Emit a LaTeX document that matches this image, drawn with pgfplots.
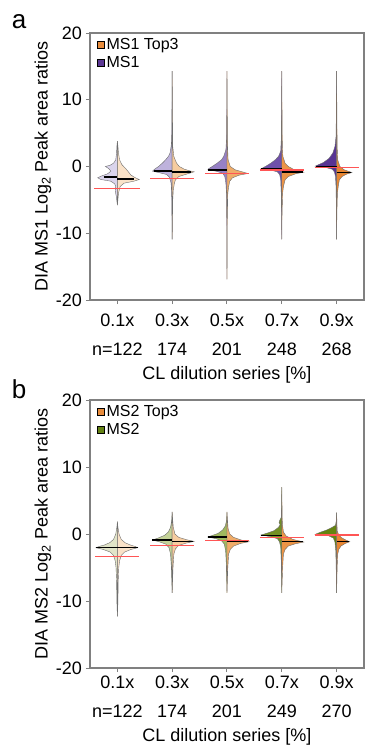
\documentclass[border=0pt]{standalone}
\usepackage{pgfplots}
\pgfplotsset{compat=1.18}
\usepackage{fontspec}
\setmainfont{Liberation Sans}
\definecolor{axgray}{RGB}{128,128,128}
\definecolor{vline}{RGB}{110,110,110}
\definecolor{redl}{RGB}{255,85,85}
\definecolor{legorange}{RGB}{232,140,60}
\definecolor{legpurple}{RGB}{92,56,148}
\definecolor{leggreen}{RGB}{100,130,20}
\definecolor{L1}{RGB}{218,212,236}
\definecolor{L2}{RGB}{190,178,220}
\definecolor{L3}{RGB}{150,128,198}
\definecolor{L4}{RGB}{112,80,170}
\definecolor{L5}{RGB}{88,52,148}
\definecolor{R1}{RGB}{250,226,200}
\definecolor{R2}{RGB}{246,204,160}
\definecolor{R3}{RGB}{240,172,105}
\definecolor{R4}{RGB}{236,148,70}
\definecolor{R5}{RGB}{232,134,50}
\definecolor{G1}{RGB}{225,228,200}
\definecolor{G2}{RGB}{196,210,152}
\definecolor{G3}{RGB}{160,185,95}
\definecolor{G4}{RGB}{115,145,35}
\definecolor{G5}{RGB}{100,132,15}
\pgfplotsset{
  violinax/.style={
    anchor=north west, scale only axis, width=274pt,
    xmin=-0.5, xmax=4.5, ymin=-20, ymax=20,
    xtick={0,1,2,3,4}, ytick={-20,-10,0,10,20},
    tick pos=left, tick align=outside, major tick length=4pt,
    axis line style={axgray, line width=1.2pt},
    tick style={axgray, line width=1pt},
    /pgf/number format/assume math mode=true,
    tick label style={font=\fontsize{18}{29}\selectfont},
    xticklabel style={align=center, inner sep=0pt},
    yticklabel style={inner sep=0pt, xshift=-4pt},
    every axis y label/.style={at={(axis description cs:-0.1715,0.5)}, rotate=90, anchor=center,
      font=\fontsize{18}{22}\selectfont},
    legend style={at={(0,1)}, anchor=north west, draw=none, fill=none,
      font=\fontsize{16}{19}\selectfont, inner sep=0pt, xshift=7pt, yshift=-3pt, row sep=1pt},
    legend cell align=left,
    legend image code/.code={\fill[##1] (0pt,-3.5pt) rectangle (7pt,3.5pt);},
  },
  vl/.style={draw=vline, line width=0.4pt, forget plot},
  med/.style={black, line width=1.5pt, forget plot},
  redline/.style={redl, line width=1.2pt, forget plot},
}
\begin{document}
\begin{tikzpicture}
\path[use as bounding box] (-90pt,33pt) rectangle (276pt,-714pt);
% ---------------- panel a ----------------
\begin{axis}[violinax, at={(0pt,0pt)}, height=267pt,
  xticklabels={{0.1x\\n=122},{0.3x\\174},{0.5x\\201},{0.7x\\248},{0.9x\\268}},
  xticklabel style={yshift=-10pt},
  every axis x label/.style={at={(axis description cs:0.5,-0.281)}, anchor=center,
      font=\fontsize{18}{22}\selectfont},
  xlabel={CL dilution series [\%]},
  ylabel={DIA MS1 Log\textsubscript{2} Peak area ratios}]
\addlegendimage{fill=legorange}\addlegendentry{MS1 Top3}
\addlegendimage{fill=legpurple}\addlegendentry{MS1}
% a1
\addplot[vl, fill=L1] coordinates {(0,3.8) (-0.01,3.0) (-0.015,2.0) (-0.03,1.0) (-0.07,0.5) (-0.13,0.2) (-0.22,0.0) (-0.16,-0.3) (-0.12,-0.7) (-0.18,-1.1) (-0.3,-1.45) (-0.36,-1.7) (-0.3,-1.95) (-0.12,-2.2) (-0.05,-2.6) (-0.03,-3.0) (-0.04,-3.6) (-0.02,-4.5) (0,-5.8)} -- cycle;
\addplot[vl, fill=R1] coordinates {(0,3.8) (0.01,3.0) (0.02,2.0) (0.04,1.0) (0.08,0.3) (0.15,-0.3) (0.2,-0.8) (0.25,-1.3) (0.33,-1.7) (0.4,-1.95) (0.3,-2.2) (0.12,-2.5) (0.05,-3.0) (0.02,-4.0) (0,-5.8)} -- cycle;
% a2
\addplot[vl, fill=L2] coordinates {(1,14.3) (0.995,8) (0.99,4) (0.98,3.0) (0.96,2.0) (0.93,1.5) (0.88,1.0) (0.82,0.5) (0.75,0.0) (0.68,-0.4) (0.64,-0.7) (0.75,-0.9) (0.9,-1.2) (0.95,-1.6) (0.98,-2.5) (0.99,-4) (0.995,-7) (1,-10.9)} -- cycle;
\addplot[vl, fill=R2] coordinates {(1,14.3) (1.005,8) (1.01,3) (1.03,1.5) (1.08,0.5) (1.13,0) (1.22,-0.4) (1.32,-0.65) (1.4,-0.8) (1.28,-1.1) (1.12,-1.5) (1.06,-2.0) (1.04,-2.5) (1.02,-3.5) (1.01,-5) (1.005,-8) (1,-10.9)} -- cycle;
% a3
\addplot[vl, fill=L3] coordinates {(2,14.3) (1.995,8) (1.99,4) (1.98,2.5) (1.94,1.5) (1.9,1.0) (1.82,0.5) (1.73,0.0) (1.67,-0.3) (1.65,-0.5) (1.8,-0.7) (1.92,-1.0) (1.96,-1.5) (1.98,-2.5) (1.99,-4) (1.995,-8) (2,-16.9)} -- cycle;
\addplot[vl, fill=R3] coordinates {(2,14.3) (2.005,8) (2.01,3) (2.02,1.0) (2.06,0) (2.15,-0.5) (2.28,-0.8) (2.38,-1.05) (2.22,-1.3) (2.1,-1.7) (2.05,-2.2) (2.03,-3) (2.015,-4) (2.005,-8) (2,-16.9)} -- cycle;
% a4
\addplot[vl, fill=L4] coordinates {(3,14.3) (2.995,8) (2.99,4) (2.98,2.3) (2.94,1.5) (2.88,1.0) (2.8,0.5) (2.7,0.0) (2.62,-0.35) (2.8,-0.55) (2.92,-0.8) (2.96,-1.2) (2.98,-2) (2.99,-4) (2.995,-7) (3,-10.9)} -- cycle;
\addplot[vl, fill=R4] coordinates {(3,14.3) (3.005,8) (3.01,3) (3.02,1.5) (3.06,0.5) (3.12,0) (3.22,-0.45) (3.4,-0.85) (3.25,-1.1) (3.12,-1.5) (3.06,-2.0) (3.03,-3) (3.015,-4) (3.005,-7) (3,-10.9)} -- cycle;
% a5
\addplot[vl, fill=L5] coordinates {(4,14.3) (3.995,8) (3.99,4.5) (3.97,3.0) (3.93,2.0) (3.86,1.2) (3.76,0.6) (3.65,0.2) (3.61,0.05) (3.8,-0.15) (3.92,-0.4) (3.96,-0.8) (3.98,-1.5) (3.99,-3) (3.995,-6) (4,-10.9)} -- cycle;
\addplot[vl, fill=R5] coordinates {(4,14.3) (4.005,8) (4.01,3) (4.02,1.0) (4.06,0) (4.14,-0.5) (4.28,-0.9) (4.18,-1.15) (4.1,-1.5) (4.05,-2.0) (4.03,-3) (4.015,-4) (4.005,-7) (4,-10.9)} -- cycle;
% medians
\addplot[med] coordinates {(-0.25,-1.55) (0,-1.55)};
\addplot[med] coordinates {(0,-1.85) (0.3,-1.85)};
\addplot[med] coordinates {(0.67,-0.7) (1,-0.7)};
\addplot[med] coordinates {(1,-0.8) (1.34,-0.8)};
\addplot[med] coordinates {(1.66,-0.5) (2,-0.5)};
\addplot[med] coordinates {(2,-1.05) (2.36,-1.05)};
\addplot[med] coordinates {(2.62,-0.3) (3,-0.3)};
\addplot[med] coordinates {(3,-0.85) (3.38,-0.85)};
\addplot[med] coordinates {(3.62,0.02) (4,0.02)};
\addplot[med] coordinates {(4,-0.9) (4.27,-0.9)};
% expected ratios
\addplot[redline] coordinates {(-0.42,-3.32) (0.42,-3.32)};
\addplot[redline] coordinates {(0.6,-1.74) (1.4,-1.74)};
\addplot[redline] coordinates {(1.6,-1) (2.4,-1)};
\addplot[redline] coordinates {(2.6,-0.51) (3.4,-0.51)};
\addplot[redline] coordinates {(3.6,-0.15) (4.4,-0.15)};
\end{axis}
\node[font=\fontsize{26}{30}\selectfont, anchor=base] at (-71pt,5pt) {a};
% ---------------- panel b ----------------
\begin{axis}[violinax, at={(0pt,-367pt)}, height=268pt,
  xticklabels={{0.1x\\n=122},{0.3x\\174},{0.5x\\201},{0.7x\\249},{0.9x\\270}},
  xticklabel style={yshift=-4pt},
  every axis x label/.style={at={(axis description cs:0.5,-0.257)}, anchor=center,
      font=\fontsize{18}{22}\selectfont},
  xlabel={CL dilution series [\%]},
  ylabel={DIA MS2 Log\textsubscript{2} Peak area ratios}]
\addlegendimage{fill=legorange}\addlegendentry{MS2 Top3}
\addlegendimage{fill=leggreen}\addlegendentry{MS2}
% b1
\addplot[vl, fill=G1] coordinates {(0,1.85) (-0.01,1.0) (-0.03,0) (-0.07,-0.8) (-0.14,-1.3) (-0.24,-1.65) (-0.33,-1.85) (-0.39,-2.05) (-0.26,-2.3) (-0.13,-2.7) (-0.07,-3.2) (-0.04,-4) (-0.025,-5) (-0.015,-7) (-0.01,-10) (0,-12.3)} -- cycle;
\addplot[vl, fill=R1] coordinates {(0,1.85) (0.01,1.0) (0.03,0) (0.07,-0.8) (0.14,-1.3) (0.24,-1.65) (0.32,-1.85) (0.37,-2.05) (0.25,-2.3) (0.13,-2.7) (0.07,-3.2) (0.04,-4) (0.025,-5) (0.015,-7) (0.01,-10) (0,-12.3)} -- cycle;
% b2
\addplot[vl, fill=G2] coordinates {(1,3.3) (0.99,2.0) (0.97,1.0) (0.93,0.3) (0.86,-0.2) (0.76,-0.55) (0.64,-0.9) (0.76,-1.15) (0.88,-1.5) (0.94,-2.0) (0.97,-3) (0.985,-5) (1,-8.8)} -- cycle;
\addplot[vl, fill=R2] coordinates {(1,3.3) (1.01,2.0) (1.02,1.0) (1.05,0) (1.12,-0.5) (1.26,-0.85) (1.4,-1.1) (1.26,-1.35) (1.12,-1.7) (1.06,-2.2) (1.03,-3) (1.015,-5) (1,-8.8)} -- cycle;
% b3
\addplot[vl, fill=G3] coordinates {(2,3.3) (1.99,2.0) (1.97,1.2) (1.92,0.6) (1.84,0.1) (1.72,-0.25) (1.65,-0.45) (1.8,-0.7) (1.9,-1.0) (1.95,-1.5) (1.975,-2.5) (1.985,-4) (2,-8.8)} -- cycle;
\addplot[vl, fill=R3] coordinates {(2,3.3) (2.01,2.0) (2.02,0.8) (2.05,0) (2.12,-0.5) (2.26,-0.9) (2.4,-1.15) (2.25,-1.4) (2.12,-1.8) (2.06,-2.3) (2.03,-3) (2.015,-5) (2,-8.8)} -- cycle;
% b4
\addplot[vl, fill=G4] coordinates {(3,7.0) (2.995,4) (2.99,2.5) (2.96,2.0) (2.95,1.7) (2.97,1.4) (2.94,1.0) (2.86,0.5) (2.74,0.15) (2.62,-0.15) (2.8,-0.4) (2.92,-0.7) (2.96,-1.2) (2.98,-2) (2.99,-4) (3,-8.8)} -- cycle;
\addplot[vl, fill=R4] coordinates {(3,7.0) (3.005,4) (3.01,1.5) (3.03,0.3) (3.08,-0.3) (3.2,-0.8) (3.4,-1.2) (3.25,-1.45) (3.12,-1.8) (3.06,-2.3) (3.03,-3) (3.015,-5) (3,-8.8)} -- cycle;
% b5
\addplot[vl, fill=G5] coordinates {(4,3.2) (3.995,2.0) (3.98,1.3) (3.92,1.0) (3.82,0.6) (3.7,0.25) (3.61,-0.05) (3.85,-0.25) (3.94,-0.6) (3.97,-1.2) (3.985,-2.5) (3.99,-4) (4,-8.8)} -- cycle;
\addplot[vl, fill=R5] coordinates {(4,3.2) (4.005,2) (4.01,0.5) (4.04,-0.2) (4.1,-0.6) (4.18,-0.95) (4.24,-1.15) (4.16,-1.4) (4.08,-1.8) (4.04,-2.3) (4.02,-3) (4.01,-5) (4,-8.8)} -- cycle;
% medians
\addplot[med] coordinates {(-0.39,-2.05) (0.37,-2.05)};
\addplot[med] coordinates {(0.64,-0.9) (1,-0.9)};
\addplot[med] coordinates {(1,-1.1) (1.38,-1.1)};
\addplot[med] coordinates {(1.65,-0.45) (2,-0.45)};
\addplot[med] coordinates {(2,-1.1) (2.38,-1.1)};
\addplot[med] coordinates {(2.62,-0.2) (3,-0.2)};
\addplot[med] coordinates {(3,-1.15) (3.38,-1.15)};
\addplot[med] coordinates {(3.61,-0.05) (4,-0.05)};
\addplot[med] coordinates {(4,-1.1) (4.23,-1.1)};
% expected ratios
\addplot[redline] coordinates {(-0.4,-3.4) (0.4,-3.4)};
\addplot[redline] coordinates {(0.6,-1.74) (1.4,-1.74)};
\addplot[redline] coordinates {(1.6,-1) (2.4,-1)};
\addplot[redline] coordinates {(2.6,-0.51) (3.4,-0.51)};
\addplot[redline] coordinates {(3.6,-0.15) (4.4,-0.15)};
\end{axis}
\node[font=\fontsize{26}{30}\selectfont, anchor=base] at (-71pt,-365pt) {b};
\end{tikzpicture}
\end{document}
